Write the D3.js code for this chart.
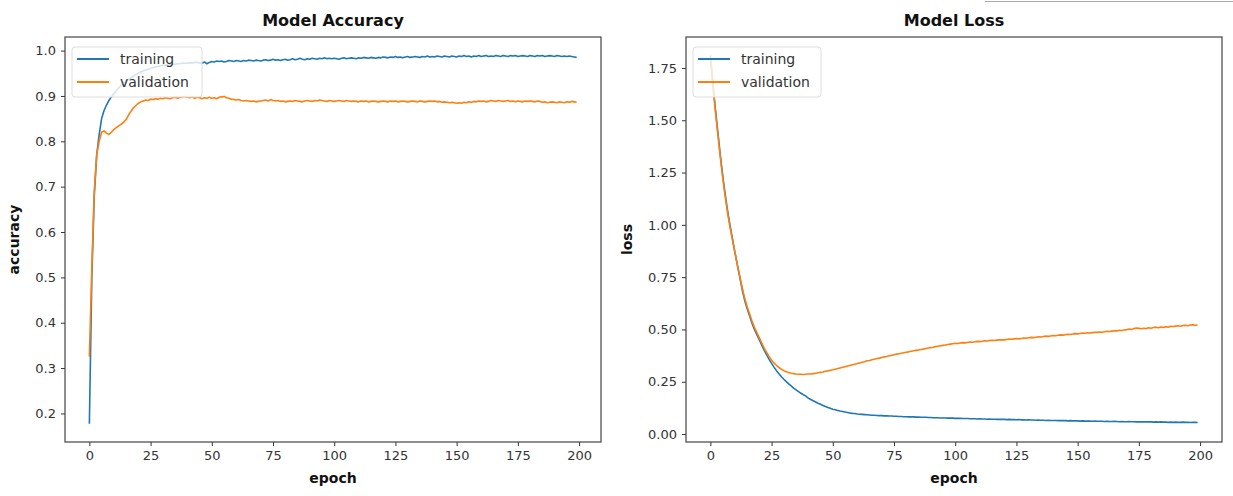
<!DOCTYPE html>
<html>
<head>
<meta charset="utf-8">
<script src="https://cdn.jsdelivr.net/npm/d3@7"></script>
<style>
  body { margin: 0; background: #fff; }
  svg { display: block; font-family: "DejaVu Sans", sans-serif; }
</style>
</head>
<body>
<div id="anchor-point"></div>
<script>
// training history (one value per epoch, 0..199)

const acc_train = [
  0.177, 0.50, 0.68, 0.77, 0.815, 0.85, 0.868, 0.88, 0.89, 0.898,
  0.905, 0.912, 0.918, 0.923, 0.928, 0.933, 0.937, 0.940, 0.944, 0.947,
  0.950, 0.953, 0.955, 0.957, 0.959, 0.961, 0.962, 0.964, 0.965, 0.966,
  0.967, 0.968, 0.968, 0.969, 0.970, 0.970, 0.971, 0.971, 0.972, 0.972,
  0.972, 0.973, 0.973, 0.974, 0.974, 0.973, 0.972, 0.975, 0.971, 0.974,
  0.976, 0.975, 0.977, 0.976, 0.977, 0.975, 0.976, 0.978, 0.977, 0.976,
  0.978, 0.977, 0.976, 0.978, 0.977, 0.979, 0.978, 0.977, 0.979, 0.978,
  0.977, 0.979, 0.980, 0.978, 0.979, 0.981, 0.979, 0.980, 0.978, 0.980,
  0.981, 0.979, 0.980, 0.982, 0.980, 0.981, 0.983, 0.981, 0.980, 0.982,
  0.981, 0.983, 0.982, 0.981, 0.983, 0.982, 0.984, 0.982, 0.983, 0.982,
  0.983, 0.982, 0.981, 0.983, 0.984, 0.982, 0.983, 0.984, 0.983, 0.982,
  0.984, 0.983, 0.985, 0.984, 0.983, 0.985, 0.984, 0.983, 0.985, 0.984,
  0.986, 0.985, 0.984, 0.986, 0.985, 0.987, 0.985, 0.986, 0.984, 0.986,
  0.987, 0.985, 0.986, 0.987, 0.986, 0.985, 0.987, 0.986, 0.988, 0.986,
  0.987, 0.986, 0.988, 0.987, 0.986, 0.988, 0.987, 0.986, 0.988, 0.987,
  0.986, 0.988, 0.987, 0.989, 0.987, 0.988, 0.986, 0.988, 0.987, 0.989,
  0.987, 0.988, 0.989, 0.987, 0.988, 0.987, 0.989, 0.988, 0.987, 0.989,
  0.988, 0.987, 0.989, 0.988, 0.989, 0.987, 0.988, 0.989, 0.988, 0.987,
  0.989, 0.988, 0.987, 0.989, 0.988, 0.989, 0.987, 0.988, 0.989, 0.988,
  0.987, 0.989, 0.988, 0.987, 0.988, 0.987, 0.988, 0.987, 0.986, 0.985
];

const acc_val = [
  0.325, 0.52, 0.69, 0.77, 0.80, 0.82, 0.823, 0.818, 0.815, 0.82,
  0.826, 0.83, 0.834, 0.838, 0.842, 0.848, 0.858, 0.866, 0.874, 0.879,
  0.884, 0.887, 0.889, 0.891, 0.890, 0.893, 0.892, 0.894, 0.893, 0.895,
  0.894, 0.896, 0.895, 0.894, 0.896, 0.897, 0.895, 0.897, 0.898, 0.899,
  0.897, 0.896, 0.898, 0.895, 0.897, 0.896, 0.894, 0.896, 0.895, 0.897,
  0.895, 0.896, 0.894, 0.897, 0.898, 0.899, 0.896, 0.895, 0.893, 0.892,
  0.891, 0.892, 0.890, 0.889, 0.890, 0.889, 0.888, 0.889, 0.887, 0.888,
  0.889, 0.890, 0.891, 0.889, 0.892, 0.890, 0.889, 0.890, 0.888, 0.889,
  0.887, 0.888, 0.889, 0.888, 0.890, 0.889, 0.888, 0.887, 0.889, 0.890,
  0.889, 0.888, 0.890, 0.889, 0.891, 0.890, 0.889, 0.888, 0.890, 0.889,
  0.888, 0.889, 0.890, 0.889, 0.888, 0.890, 0.889, 0.888, 0.889, 0.888,
  0.887, 0.889, 0.888, 0.889, 0.887, 0.888, 0.889, 0.888, 0.887, 0.888,
  0.889, 0.888, 0.887, 0.889, 0.888, 0.889, 0.887, 0.888, 0.889, 0.888,
  0.887, 0.888, 0.889, 0.888, 0.887, 0.889, 0.888, 0.887, 0.888, 0.889,
  0.888, 0.889, 0.887, 0.888, 0.886, 0.887, 0.886, 0.885, 0.886, 0.885,
  0.884, 0.885, 0.884, 0.886, 0.885, 0.887, 0.886, 0.888, 0.887, 0.889,
  0.888, 0.889, 0.887, 0.888, 0.890, 0.889, 0.888, 0.890, 0.889, 0.888,
  0.889, 0.890, 0.888, 0.889, 0.887, 0.889, 0.888, 0.887, 0.889, 0.888,
  0.889, 0.888, 0.887, 0.889, 0.888, 0.886, 0.887, 0.885, 0.886, 0.887,
  0.886, 0.885, 0.887, 0.886, 0.885, 0.887, 0.886, 0.888, 0.887, 0.886
];

const loss_train = [
  1.81, 1.68, 1.56, 1.45, 1.34, 1.24, 1.15, 1.07, 1.00, 0.935,
  0.87, 0.81, 0.75, 0.69, 0.64, 0.60, 0.565, 0.53, 0.50, 0.475,
  0.45, 0.425, 0.40, 0.378, 0.357, 0.338, 0.32, 0.303, 0.288, 0.274,
  0.262, 0.251, 0.240, 0.230, 0.220, 0.211, 0.203, 0.195, 0.188, 0.181,
  0.172, 0.165, 0.159, 0.153, 0.147, 0.142, 0.137, 0.132, 0.127, 0.123,
  0.119, 0.116, 0.113, 0.110, 0.108, 0.105, 0.103, 0.101, 0.099, 0.098,
  0.096, 0.095, 0.094, 0.093, 0.092, 0.091, 0.090, 0.090, 0.089, 0.088,
  0.088, 0.087, 0.087, 0.086, 0.086, 0.085, 0.085, 0.084, 0.084, 0.083,
  0.083, 0.082, 0.082, 0.082, 0.081, 0.081, 0.080, 0.080, 0.080, 0.079,
  0.079, 0.078, 0.078, 0.078, 0.077, 0.077, 0.077, 0.076, 0.076, 0.076,
  0.075, 0.075, 0.075, 0.074, 0.074, 0.074, 0.073, 0.073, 0.073, 0.072,
  0.073, 0.072, 0.072, 0.071, 0.072, 0.071, 0.071, 0.070, 0.071, 0.070,
  0.070, 0.069, 0.070, 0.069, 0.069, 0.068, 0.069, 0.068, 0.068, 0.067,
  0.068, 0.067, 0.067, 0.066, 0.067, 0.066, 0.066, 0.065, 0.066, 0.065,
  0.065, 0.065, 0.064, 0.065, 0.064, 0.064, 0.063, 0.064, 0.063, 0.063,
  0.063, 0.062, 0.063, 0.062, 0.062, 0.062, 0.061, 0.062, 0.061, 0.061,
  0.061, 0.060, 0.061, 0.060, 0.060, 0.061, 0.060, 0.059, 0.060, 0.059,
  0.059, 0.060, 0.059, 0.059, 0.058, 0.059, 0.058, 0.059, 0.058, 0.058,
  0.058, 0.057, 0.058, 0.057, 0.058, 0.057, 0.057, 0.056, 0.057, 0.056,
  0.057, 0.056, 0.056, 0.057, 0.056, 0.056, 0.055, 0.056, 0.056, 0.055
];

const loss_val = [
  1.80, 1.67, 1.55, 1.44, 1.33, 1.23, 1.14, 1.06, 0.99, 0.93,
  0.87, 0.81, 0.755, 0.70, 0.65, 0.61, 0.575, 0.54, 0.51, 0.485,
  0.46, 0.435, 0.41, 0.39, 0.37, 0.353, 0.34, 0.328, 0.318, 0.31,
  0.303, 0.298, 0.294, 0.291, 0.289, 0.287, 0.286, 0.286, 0.285, 0.286,
  0.287, 0.287, 0.289, 0.291, 0.293, 0.295, 0.297, 0.300, 0.302, 0.305,
  0.307, 0.310, 0.313, 0.316, 0.319, 0.322, 0.325, 0.328, 0.331, 0.334,
  0.337, 0.340, 0.343, 0.346, 0.350, 0.352, 0.355, 0.358, 0.361, 0.363,
  0.366, 0.369, 0.371, 0.374, 0.376, 0.379, 0.382, 0.384, 0.386, 0.389,
  0.391, 0.393, 0.396, 0.398, 0.400, 0.402, 0.404, 0.406, 0.409, 0.411,
  0.413, 0.415, 0.418, 0.420, 0.422, 0.424, 0.426, 0.428, 0.430, 0.432,
  0.434, 0.433, 0.435, 0.437, 0.436, 0.438, 0.440, 0.439, 0.441, 0.443,
  0.442, 0.444, 0.446, 0.445, 0.447, 0.448, 0.447, 0.449, 0.450, 0.451,
  0.450, 0.452, 0.454, 0.453, 0.455, 0.456, 0.455, 0.457, 0.459, 0.458,
  0.460, 0.462, 0.461, 0.463, 0.465, 0.464, 0.466, 0.468, 0.467, 0.469,
  0.471, 0.470, 0.472, 0.474, 0.473, 0.475, 0.477, 0.476, 0.478, 0.480,
  0.479, 0.481, 0.483, 0.482, 0.484, 0.483, 0.485, 0.487, 0.486, 0.488,
  0.487, 0.489, 0.491, 0.490, 0.492, 0.494, 0.493, 0.496, 0.495, 0.497,
  0.499, 0.502, 0.500, 0.504, 0.507, 0.505, 0.503, 0.506, 0.504, 0.508,
  0.506, 0.509, 0.511, 0.508, 0.512, 0.510, 0.513, 0.511, 0.515, 0.514,
  0.516, 0.518, 0.515, 0.519, 0.520, 0.518, 0.521, 0.522, 0.520, 0.521
];

const series_names = ["training", "validation"];
const x_ticks = [0, 25, 50, 75, 100, 125, 150, 175, 200];
const acc_ticks = [0.2, 0.3, 0.4, 0.5, 0.6, 0.7, 0.8, 0.9, 1.0];
const loss_ticks = [0.0, 0.25, 0.5, 0.75, 1.0, 1.25, 1.5, 1.75];

const colors = ["#1f77b4", "#ff7f0e"];
const W = 1233, H = 496;

const svg = d3.select("#anchor-point")
  .append("svg")
  .attr("width", W)
  .attr("height", H);

// stray rule in the top right corner of the original
svg.append("line")
  .attr("x1", 985).attr("x2", W)
  .attr("y1", 1.5).attr("y2", 1.5)
  .attr("stroke", "#aaa").attr("stroke-width", 1);

function drawPanel(opt) {
  const left = opt.left, top = 37, width = 536, height = 405;
  const g = svg.append("g").attr("transform", `translate(${left},${top})`);

  const x = d3.scaleLinear().domain([-9.95, 208.95]).range([0, width]);
  const y = d3.scaleLinear().domain(opt.yDomain).range([height, 0]);

  const line = d3.line()
    .x((d, i) => x(i))
    .y(d => y(d));

  // validation under training where they overlap? matplotlib draws training first
  opt.series.forEach((s, k) => {
    g.append("path")
      .datum(s)
      .attr("fill", "none")
      .attr("stroke", colors[k])
      .attr("stroke-width", 1.6)
      .attr("stroke-linejoin", "round")
      .attr("d", line);
  });

  const xAxis = g.append("g")
    .attr("transform", `translate(0,${height})`)
    .call(d3.axisBottom(x).tickValues(x_ticks).tickSize(4).tickPadding(5).tickFormat(d3.format("d")));
  const yAxis = g.append("g")
    .call(d3.axisLeft(y).tickValues(opt.ticks).tickSize(4).tickPadding(5).tickFormat(d3.format(opt.fmt)));

  [xAxis, yAxis].forEach(a => {
    a.select(".domain").remove();
    a.selectAll("line").attr("stroke", "#333");
    a.selectAll("text")
      .attr("fill", "#333")
      .style("font-size", "13px")
      .style("font-family", "DejaVu Sans, sans-serif");
  });

  // frame
  g.append("rect")
    .attr("width", width).attr("height", height)
    .attr("fill", "none")
    .attr("stroke", "#444")
    .attr("stroke-width", 1.2);

  // title + labels
  g.append("text")
    .attr("x", width / 2).attr("y", -11)
    .attr("text-anchor", "middle")
    .style("font-size", "16px").style("font-weight", "bold")
    .attr("fill", "#111")
    .text(opt.title);

  g.append("text")
    .attr("x", width / 2).attr("y", height + 41)
    .attr("text-anchor", "middle")
    .style("font-size", "14px").style("font-weight", "bold")
    .attr("fill", "#111")
    .text("epoch");

  g.append("text")
    .attr("transform", `translate(${opt.ylabelX},${height / 2}) rotate(-90)`)
    .attr("text-anchor", "middle")
    .style("font-size", "14px").style("font-weight", "bold")
    .attr("fill", "#111")
    .text(opt.ylabel);

  // legend, upper left
  const lg = g.append("g").attr("transform", `translate(${opt.legendDx},10)`);
  lg.append("rect")
    .attr("width", opt.legendW).attr("height", 50)
    .attr("rx", 3)
    .attr("fill", "rgba(255,255,255,0.8)")
    .attr("stroke", "#ddd");
  series_names.forEach((name, k) => {
    const yy = 12 + k * 23;
    lg.append("line")
      .attr("x1", 5).attr("x2", 37)
      .attr("y1", yy).attr("y2", yy)
      .attr("stroke", colors[k]).attr("stroke-width", 2);
    lg.append("text")
      .attr("x", 48).attr("y", yy)
      .attr("dy", "0.35em")
      .style("font-size", "14px")
      .attr("fill", "#333")
      .text(name);
  });
}

drawPanel({
  left: 65,
  title: "Model Accuracy",
  ylabel: "accuracy",
  ylabelX: -46,
  yDomain: [0.137, 1.03],
  ticks: acc_ticks,
  fmt: ".1f",
  series: [acc_train, acc_val],
  legendDx: 7,
  legendW: 130
});

drawPanel({
  left: 686,
  title: "Model Loss",
  ylabel: "loss",
  ylabelX: -54,
  yDomain: [-0.038, 1.898],
  ticks: loss_ticks,
  fmt: ".2f",
  series: [loss_train, loss_val],
  legendDx: 7,
  legendW: 128
});
</script>
</body>
</html>
